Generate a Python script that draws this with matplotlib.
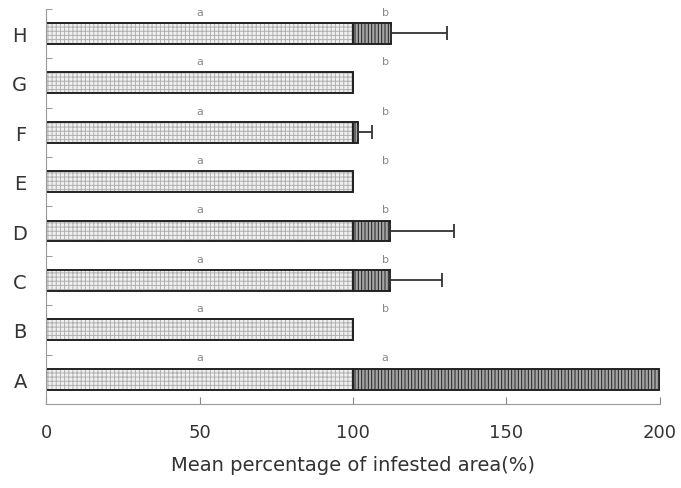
import numpy as np
import matplotlib.pyplot as plt

plt.rcParams['hatch.linewidth'] = 0.7

categorias = ['A', 'B', 'C', 'D', 'E', 'F', 'G', 'H']
base = [100, 100, 100, 100, 100, 100, 100, 100]
extra = [100, 0, 12, 12, 0, 1.5, 0, 12.5]
error = [0, 0, 17, 21, 0, 4.5, 0, 18]
letra_base = ['a', 'a', 'a', 'a', 'a', 'a', 'a', 'a']
letra_extra = ['a', 'b', 'b', 'b', 'b', 'b', 'b', 'b']

y = np.arange(len(categorias))
total = np.array(base) + np.array(extra)

fig = plt.figure(figsize=(6.81, 4.89), dpi=100)
ax = fig.add_axes([0.068, 0.172, 0.901, 0.808])

# relleno con trama clara y luego el contorno oscuro
ax.barh(y, base, height=0.42, color='#f0f0f0', edgecolor='#b0b0b0',
        linewidth=0, hatch='++++')
ax.barh(y, base, height=0.42, fill=False, edgecolor='#222222', linewidth=1.4)
ax.barh(y, extra, left=base, height=0.42, color='#a5a5a5', edgecolor='#222222',
        linewidth=1.4, hatch='|||||')
for i in range(len(y)):
    if error[i] > 0:
        ax.errorbar(total[i], y[i], xerr=[[0], [error[i]]], fmt='none',
                    ecolor='#333333', elinewidth=1.3, capsize=5, capthick=1.3)
    ax.text(50, y[i] + 0.44, letra_base[i], ha='center', va='center',
            fontsize=8, color='#888888')
    ax.text(110.5, y[i] + 0.44, letra_extra[i], ha='center', va='center',
            fontsize=8, color='#888888')

ax.set_xlim(0, 200)
ax.set_ylim(-0.5, 7.5)
ax.set_yticks(y)
ax.set_yticklabels(categorias)
ax.set_yticks(np.arange(-0.5, 7.6, 1), minor=True)
ax.tick_params(axis='y', which='major', length=0, pad=14, labelsize=14, labelcolor='#333333')
ax.tick_params(axis='y', which='minor', direction='in', length=4, color='#888888')
ax.set_xticks([0, 50, 100, 150, 200])
ax.tick_params(axis='x', direction='in', length=5, color='#888888', pad=14,
               labelsize=13, labelcolor='#333333')
for s in ['top', 'right']:
    ax.spines[s].set_visible(False)
for s in ['left', 'bottom']:
    ax.spines[s].set_color('#999999')
ax.set_xlabel('Mean percentage of infested area(%)', fontsize=14, color='#333333', labelpad=10)

plt.savefig('out.png', dpi=100)
